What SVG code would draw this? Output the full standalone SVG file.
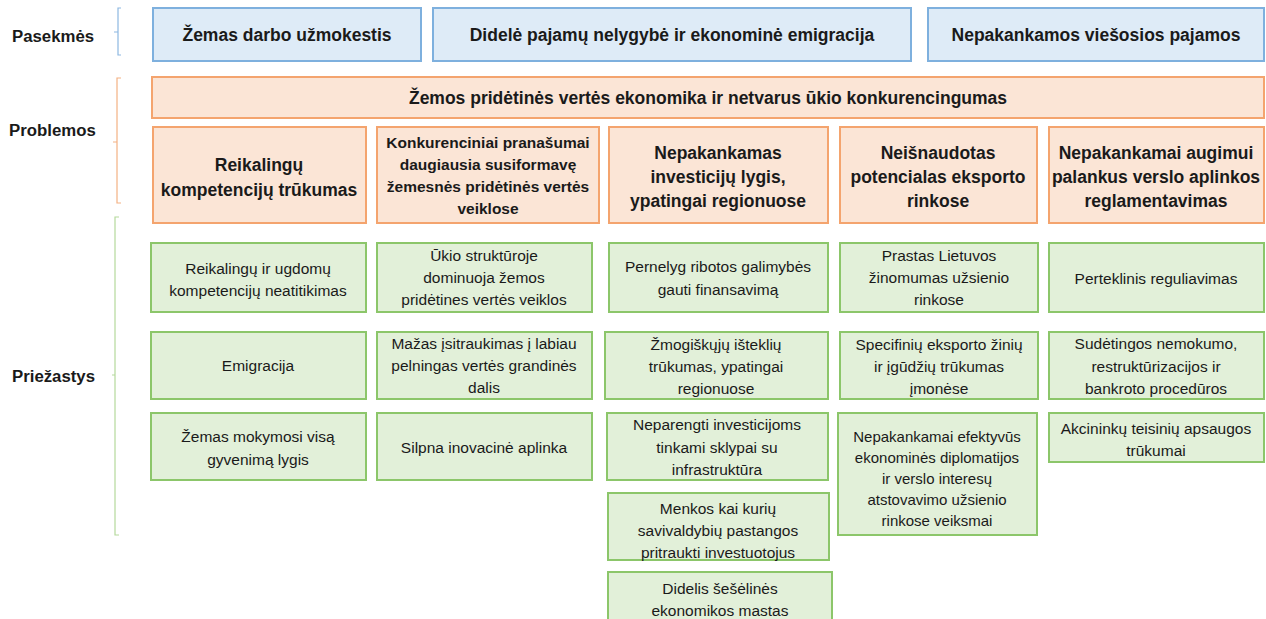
<svg xmlns="http://www.w3.org/2000/svg" width="1266" height="619" viewBox="0 0 1266 619">
<style>
text{font-family:"Liberation Sans",Arial,sans-serif;fill:#1a1a1a;text-anchor:middle}
.lbl{font-weight:bold;font-size:16.8px;text-anchor:start}
.b{fill:#DEEBF7;stroke:#7EB0DE;stroke-width:2}
.o{fill:#FBE5D6;stroke:#F4A46E;stroke-width:2}
.g{fill:#E2F0D9;stroke:#8CC66A;stroke-width:2}
.bt{font-size:17.5px;font-weight:bold}
.pt{font-size:17.5px;font-weight:bold}
.ps{font-size:15.5px;font-weight:bold}
.gt{font-size:15.5px}
.gs{font-size:15px}
.br{fill:none;stroke-width:1.2}
</style>
<rect width="1266" height="619" fill="#fff"/>
<g id="labels">
<text class="lbl" x="12" y="42">Pasekmės</text>
<text class="lbl" x="9" y="136">Problemos</text>
<text class="lbl" x="12" y="382">Priežastys</text>
</g>
<g id="connectors">
<path class="br" stroke="#8DB8E2" d="M121 8H118V55H121M118 32H114"/>
<path class="br" stroke="#F4B183" d="M121 78H117V203H121M117 142H113"/>
<path class="br" stroke="#B5D99C" d="M119 217H115V535H119M115 375H112"/>
</g>
<g id="c1"><rect class="b" x="153" y="8" width="268" height="53"/><text class="bt" x="287" y="41">Žemas darbo užmokestis</text></g>
<g id="c2"><rect class="b" x="433" y="8" width="478" height="53"/><text class="bt" x="672" y="41">Didelė pajamų nelygybė ir ekonominė emigracija</text></g>
<g id="c3"><rect class="b" x="928" y="8" width="336" height="53"/><text class="bt" x="1096" y="41">Nepakankamos viešosios pajamos</text></g>
<g id="pmain"><rect class="o" x="152" y="77" width="1112" height="41"/><text class="pt" x="708" y="104">Žemos pridėtinės vertės ekonomika ir netvarus ūkio konkurencingumas</text></g>
<g id="p1"><rect class="o" x="153" y="127" width="213" height="96" stroke="#EE8A4A"/><text class="pt" x="259" y="171">Reikalingų</text><text class="pt" x="259" y="196">kompetencijų trūkumas</text></g>
<g id="p2"><rect class="o" x="377" y="127" width="222" height="96"/><text class="ps" x="488" y="148">Konkurenciniai pranašumai</text><text class="ps" x="488" y="170">daugiausia susiformavę</text><text class="ps" x="488" y="192">žemesnės pridėtinės vertės</text><text class="ps" x="488" y="214">veiklose</text></g>
<g id="p3"><rect class="o" x="609" y="127" width="219" height="96"/><text class="pt" x="718" y="159">Nepakankamas</text><text class="pt" x="718" y="183">investicijų lygis,</text><text class="pt" x="718" y="207">ypatingai regionuose</text></g>
<g id="p4"><rect class="o" x="840" y="127" width="197" height="96"/><text class="pt" x="938" y="159">Neišnaudotas</text><text class="pt" x="938" y="183">potencialas eksporto</text><text class="pt" x="938" y="207">rinkose</text></g>
<g id="p5"><rect class="o" x="1049" y="127" width="215" height="96"/><text class="pt" x="1156" y="159">Nepakankamai augimui</text><text class="pt" x="1156" y="183">palankus verslo aplinkos</text><text class="pt" x="1156" y="207">reglamentavimas</text></g>
<g id="g11"><rect class="g" x="151" y="243" width="215" height="69"/><text class="gt" x="258" y="274">Reikalingų ir ugdomų</text><text class="gt" x="258" y="296">kompetencijų neatitikimas</text></g>
<g id="g12"><rect class="g" x="377" y="243" width="215" height="69"/><text class="gt" x="484" y="261">Ūkio struktūroje</text><text class="gt" x="484" y="283">dominuoja žemos</text><text class="gt" x="484" y="305">pridėtines vertės veiklos</text></g>
<g id="g13"><rect class="g" x="609" y="243" width="219" height="69"/><text class="gt" x="718" y="272">Pernelyg ribotos galimybės</text><text class="gt" x="718" y="295">gauti finansavimą</text></g>
<g id="g14"><rect class="g" x="840" y="243" width="198" height="69"/><text class="gt" x="939" y="261">Prastas Lietuvos</text><text class="gt" x="939" y="283">žinomumas užsienio</text><text class="gt" x="939" y="305">rinkose</text></g>
<g id="g15"><rect class="g" x="1049" y="243" width="215" height="69"/><text class="gt" x="1156" y="284">Perteklinis reguliavimas</text></g>
<g id="g21"><rect class="g" x="151" y="332" width="215" height="67"/><text class="gt" x="258" y="371">Emigracija</text></g>
<g id="g22"><rect class="g" x="377" y="332" width="215" height="67"/><text class="gt" x="484" y="349">Mažas įsitraukimas į labiau</text><text class="gt" x="484" y="371">pelningas vertės grandinės</text><text class="gt" x="484" y="393">dalis</text></g>
<g id="g23"><rect class="g" x="605" y="332" width="223" height="67"/><text class="gt" x="716" y="350">Žmogiškųjų išteklių</text><text class="gt" x="716" y="372">trūkumas, ypatingai</text><text class="gt" x="716" y="394">regionuose</text></g>
<g id="g24"><rect class="g" x="840" y="332" width="198" height="67"/><text class="gt" x="939" y="350">Specifinių eksporto žinių</text><text class="gt" x="939" y="372">ir įgūdžių trūkumas</text><text class="gt" x="939" y="394">įmonėse</text></g>
<g id="g25"><rect class="g" x="1049" y="332" width="215" height="67"/><text class="gt" x="1156" y="349">Sudėtingos nemokumo,</text><text class="gt" x="1156" y="372">restruktūrizacijos ir</text><text class="gt" x="1156" y="394">bankroto procedūros</text></g>
<g id="g31"><rect class="g" x="151" y="413" width="215" height="67"/><text class="gt" x="258" y="442">Žemas mokymosi visą</text><text class="gt" x="258" y="465">gyvenimą lygis</text></g>
<g id="g32"><rect class="g" x="377" y="413" width="215" height="67"/><text class="gt" x="484" y="453">Silpna inovacinė aplinka</text></g>
<g id="g33"><rect class="g" x="607" y="413" width="221" height="67"/><text class="gt" x="717" y="430">Neparengti investicijoms</text><text class="gt" x="717" y="453">tinkami sklypai su</text><text class="gt" x="717" y="475">infrastruktūra</text></g>
<g id="g34"><rect class="g" x="838" y="413" width="199" height="122"/><text class="gs" x="937" y="442">Nepakankamai efektyvūs</text><text class="gs" x="937" y="463">ekonominės diplomatijos</text><text class="gs" x="937" y="484">ir verslo interesų</text><text class="gs" x="937" y="505">atstovavimo užsienio</text><text class="gs" x="937" y="526">rinkose veiksmai</text></g>
<g id="g35"><rect class="g" x="1049" y="413" width="215" height="49"/><text class="gt" x="1156" y="434">Akcininkų teisinių apsaugos</text><text class="gt" x="1156" y="456">trūkumai</text></g>
<g id="g43"><rect class="g" x="608" y="493" width="221" height="67"/><text class="gt" x="718" y="514">Menkos kai kurių</text><text class="gt" x="718" y="536">savivaldybių pastangos</text><text class="gt" x="718" y="558">pritraukti investuotojus</text></g>
<g id="g53"><rect class="g" x="608" y="572" width="224" height="50"/><text class="gt" x="720" y="594">Didelis šešėlinės</text><text class="gt" x="720" y="616">ekonomikos mastas</text></g>
</svg>
